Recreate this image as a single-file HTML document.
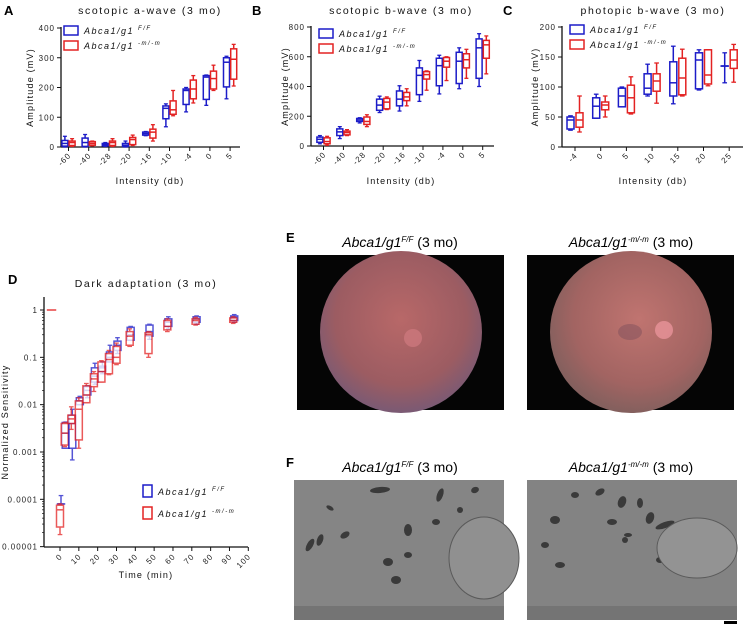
<!DOCTYPE html>
<html><head><meta charset="utf-8"><style>
html,body{margin:0;padding:0;background:#fff;}
svg{display:block;font-family:"Liberation Sans",sans-serif;}
.tk{font-size:8px;letter-spacing:1px;fill:#222;}
.ttl{font-size:10.5px;letter-spacing:1.6px;fill:#111;}
.ax{font-size:9px;letter-spacing:1.2px;fill:#111;}
.lg{font-size:9px;letter-spacing:1.5px;font-style:italic;fill:#111;}
.pl{font-size:13px;font-weight:bold;fill:#000;}
.it{font-size:14px;fill:#000;}
</style></head><body>
<svg id="chart" width="743" height="626" viewBox="0 0 743 626" xmlns="http://www.w3.org/2000/svg">
<defs>
<radialGradient id="fundL" cx="50%" cy="42%" r="58%">
<stop offset="0" stop-color="#b86868"/><stop offset="0.7" stop-color="#9c5c62"/><stop offset="1" stop-color="#7a5a74"/>
</radialGradient>
<radialGradient id="fundR" cx="55%" cy="42%" r="58%">
<stop offset="0" stop-color="#c07470"/><stop offset="0.7" stop-color="#a26462"/><stop offset="1" stop-color="#84605e"/>
</radialGradient>
</defs>
<g id="layer-charts"></g>
<g>
<text class="pl" x="286" y="242">E</text>
<text class="it" x="400" y="247" text-anchor="middle"><tspan font-style="italic">Abca1/g1</tspan><tspan font-size="8" dy="-5" font-style="italic">F/F</tspan><tspan dy="5"> (3 mo)</tspan></text>
<text class="it" x="631" y="247" text-anchor="middle"><tspan font-style="italic">Abca1/g1</tspan><tspan font-size="8" dy="-5" font-style="italic">-m/-m</tspan><tspan dy="5"> (3 mo)</tspan></text>
<rect x="297" y="255" width="207" height="155" fill="#050505"/>
<circle cx="401" cy="332" r="81" fill="url(#fundL)"/>
<circle cx="413" cy="338" r="9" fill="#d07a80" opacity="0.7"/>
<rect x="527" y="255" width="207" height="155" fill="#050505"/>
<circle cx="631" cy="332" r="81" fill="url(#fundR)"/>
<circle cx="664" cy="330" r="9" fill="#e8949a" opacity="0.8"/>
<ellipse cx="630" cy="332" rx="12" ry="8" fill="#80505c" opacity="0.5"/>
</g>
<g>
<text class="pl" x="286" y="467">F</text>
<text class="it" x="400" y="472" text-anchor="middle"><tspan font-style="italic">Abca1/g1</tspan><tspan font-size="8" dy="-5" font-style="italic">F/F</tspan><tspan dy="5"> (3 mo)</tspan></text>
<text class="it" x="631" y="472" text-anchor="middle"><tspan font-style="italic">Abca1/g1</tspan><tspan font-size="8" dy="-5" font-style="italic">-m/-m</tspan><tspan dy="5"> (3 mo)</tspan></text>
<rect x="294" y="480" width="210" height="140" fill="#858585"/>
<rect x="527" y="480" width="210" height="140" fill="#838383"/>
<g id="tem-shapes"></g>
<ellipse cx="484" cy="558" rx="35" ry="41" fill="#909090" stroke="#5a5a5a" stroke-width="1"/>
<ellipse cx="697" cy="548" rx="40" ry="30" fill="#939393" stroke="#5a5a5a" stroke-width="1"/>
<rect x="294" y="606" width="210" height="14" fill="#747474"/>
<rect x="527" y="606" width="210" height="14" fill="#747474"/>
<rect x="724" y="621" width="13" height="3" fill="#000"/>
</g>
</svg>
<script>
// Panel A: scotopic a-wave
const catsA = ["-60","-40","-28","-20","-16","-10","-4","0","5"];
const blueA = [[0,3,12,22,36],[0,2,15,30,42],[2,4,8,12,15],[0,2,6,12,20],[38,40,45,50,52],[68,95,130,138,145],[118,143,190,195,200],[140,160,235,240,242],[162,202,285,300,305]];
const redA = [[2,5,15,20,28],[4,6,12,18,20],[2,5,15,20,28],[5,8,25,32,40],[20,30,50,60,75],[105,110,125,155,190],[148,162,195,225,240],[190,195,230,255,275],[205,228,295,330,345]];
const ticksA = [0,100,200,300,400];
// Panel B: scotopic b-wave
const catsB = ["-60","-40","-28","-20","-16","-10","-4","0","5"];
const blueB = [[15,25,45,60,70],[50,70,95,115,130],[155,165,175,185,190],[225,240,275,315,335],[235,270,315,370,405],[300,345,475,525,575],[350,405,540,590,610],[385,420,570,630,660],[400,455,660,720,755]];
const redB = [[5,15,30,55,65],[70,75,90,100,110],[130,145,165,195,210],[245,250,295,320,330],[270,305,330,360,385],[375,450,480,500,505],[440,530,570,595,600],[455,525,580,620,650],[485,590,680,710,740]];
const ticksB = [0,200,400,600,800];
// Panel C: photopic b-wave
const catsC = ["-4","0","5","10","15","20","25"];
const blueC = [[28,30,45,50,52],[48,48,68,82,88],[67,67,85,98,100],[85,88,98,122,138],[72,85,107,142,168],[95,97,145,157,162],[107,135,135,135,157]];
const redC = [[25,33,45,57,85],[50,62,70,75,85],[55,57,82,103,117],[73,93,110,122,140],[85,87,115,148,163],[102,105,120,162,162],[108,131,145,162,171]];
const ticksC = [0,50,100,150,200];
// Panel D: dark adaptation
const timesD = [0,2.5,6,10,14,18,22,26,30,37,47,57,72,92];
const blueD = [[0.00008,0.00008,0.00008,0.00008,0.00012],[0.0012,0.0012,0.0025,0.0042,0.0043],[0.00068,0.0012,0.004,0.006,0.008],[0.01,0.01,0.012,0.014,0.015],[0.014,0.016,0.02,0.024,0.025],[0.027,0.03,0.04,0.06,0.075],[0.045,0.05,0.06,0.065,0.08],[0.08,0.08,0.1,0.13,0.18],[0.12,0.14,0.18,0.22,0.26],[0.23,0.23,0.3,0.43,0.45],[0.24,0.28,0.35,0.48,0.5],[0.4,0.45,0.55,0.65,0.72],[0.5,0.55,0.65,0.72,0.75],[0.55,0.6,0.7,0.75,0.8]];
const redD = [[0.000018,0.000026,0.00006,0.000075,0.00008],[0.0013,0.0014,0.0025,0.004,0.0042],[0.003,0.004,0.005,0.006,0.009],[0.0012,0.0018,0.008,0.012,0.014],[0.011,0.011,0.016,0.025,0.028],[0.019,0.024,0.035,0.045,0.05],[0.03,0.03,0.05,0.08,0.085],[0.043,0.045,0.09,0.12,0.14],[0.07,0.075,0.1,0.17,0.2],[0.17,0.18,0.28,0.35,0.4],[0.1,0.12,0.3,0.33,0.35],[0.35,0.38,0.45,0.6,0.65],[0.48,0.5,0.6,0.65,0.7],[0.52,0.55,0.6,0.68,0.72]];
const baselineD = 1;
const ticksD = [1,0.1,0.01,0.001,0.0001,0.00001];
const ticksDLabels = ["1","0.1","0.01","0.001","0.0001","0.00001"];
const xTicksD = [0,10,20,30,40,50,60,70,80,90,100];

const NS = "http://www.w3.org/2000/svg";
const root = document.getElementById('layer-charts');
const BLUE = "#1c1cc8", RED = "#e32222";
function mk(tag, attrs, parent) {
  const e = document.createElementNS(NS, tag);
  for (const k in attrs) e.setAttribute(k, attrs[k]);
  (parent || root).appendChild(e);
  return e;
}
function drawBox(g, cx, w, v, sy, color, op) {
  const grp = mk('g', {opacity: op}, g);
  
  
  const wh = mk('line', {x1: cx, x2: cx, y1: sy(v[0]), y2: sy(v[4]), stroke: color, 'stroke-width': 1.5}, grp);
  
  
  const cap1 = mk('line', {x1: cx - w/3, x2: cx + w/3, y1: sy(v[0]), y2: sy(v[0]), stroke: color, 'stroke-width': 1.3}, grp);
  
  
  const cap2 = mk('line', {x1: cx - w/3, x2: cx + w/3, y1: sy(v[4]), y2: sy(v[4]), stroke: color, 'stroke-width': 1.3}, grp);
  
  
  const y3 = sy(v[3]), y1 = sy(v[1]);
  const r = mk('rect', {x: cx - w/2, y: y3, width: w, height: Math.max(y1 - y3, 0.1), fill: '#fff', stroke: color, 'stroke-width': 1.5}, grp);
  
  
  const md = mk('line', {x1: cx - w/2, x2: cx + w/2, y1: sy(v[2]), y2: sy(v[2]), stroke: color, 'stroke-width': 1.5}, grp);
  
  
}
function txt(g, x, y, s, cls, extra) {
  const t = mk('text', Object.assign({x: x, y: y, class: cls}, extra || {}), g);
  t.textContent = s;
  return t;
}
function legendItem(g, x, y, color, sup, big) {
  const r = mk('rect', {x: x, y: y, width: big ? 14 : 9, height: big ? 9 : 12, fill: 'none', stroke: color, 'stroke-width': 1.5}, g);
  
  
  const t = mk('text', {x: x + (big ? 20 : 15), y: y + (big ? 8 : 10), class: 'lg'}, g);
  
  
  const a = document.createElementNS(NS, 'tspan'); a.textContent = 'Abca1/g1 '; t.appendChild(a);
  const b = document.createElementNS(NS, 'tspan'); b.setAttribute('font-size', '6'); b.setAttribute('dy', '-4'); b.textContent = sup; t.appendChild(b);
}
function panel(o) {
  const g = mk('g', {});
  
  
  const sy = v => o.y0 - (v / o.ymax) * (o.y0 - o.ytop);
  const cx = i => o.c0 + o.dc * i;
  txt(g, o.letterX, 15, o.letter, 'pl');
  txt(g, o.titleX, 14, o.title, 'ttl', {'text-anchor': 'middle'});
  mk('line', {x1: o.xa, x2: o.xa, y1: o.ytop - 1, y2: o.y0, stroke: '#111', 'stroke-width': 1.3}, g);
  mk('line', {x1: o.xa, x2: o.xend, y1: o.y0, y2: o.y0, stroke: '#111', 'stroke-width': 1.3}, g);
  o.ticks.forEach(t => {
    mk('line', {x1: o.xa - 4, x2: o.xa, y1: sy(t), y2: sy(t), stroke: '#111', 'stroke-width': 1}, g);
    txt(g, o.xa - 6, sy(t) + 3, String(t), 'tk', {'text-anchor': 'end'});
  });
  o.cats.forEach((c, i) => {
    mk('line', {x1: cx(i), x2: cx(i), y1: o.y0, y2: o.y0 + 4, stroke: '#111', 'stroke-width': 1}, g);
    txt(g, cx(i) + 3, o.y0 + 9, c, 'tk', {'text-anchor': 'end', transform: 'rotate(-45 ' + (cx(i) + 3) + ' ' + (o.y0 + 9) + ')'});
    drawBox(g, cx(i) - o.off, o.bw, o.blue[i], sy, BLUE, 1);
    drawBox(g, cx(i) + o.off, o.bw, o.red[i], sy, RED, 1);
  });
  txt(g, o.titleX, 184, 'Intensity (db)', 'ax', {'text-anchor': 'middle'});
  txt(g, 0, 0, 'Amplitude (mV)', 'ax', {'text-anchor': 'middle', transform: 'translate(' + o.ylabX + ' ' + ((o.y0 + o.ytop) / 2) + ') rotate(-90)'});
  legendItem(g, o.legX, o.legY, BLUE, 'F/F', true);
  legendItem(g, o.legX, o.legY + 15, RED, '-m/-m', true);
}
panel({name: 'panel-a-scotopic-a-wave', letter: 'A', letterX: 4, title: 'scotopic a-wave (3 mo)', titleX: 150, xa: 61, xend: 240, y0: 147, ytop: 28, ymax: 400, c0: 68.5, dc: 20.2, off: 3.6, bw: 6, cats: catsA, blue: blueA, red: redA, ticks: ticksA, ylabX: 33, legX: 64, legY: 26});
panel({name: 'panel-b-scotopic-b-wave', letter: 'B', letterX: 252, title: 'scotopic b-wave (3 mo)', titleX: 401, xa: 311, xend: 494, y0: 146, ytop: 27, ymax: 800, c0: 323.5, dc: 19.9, off: 3.6, bw: 6, cats: catsB, blue: blueB, red: redB, ticks: ticksB, ylabX: 288, legX: 319, legY: 29});
panel({name: 'panel-c-photopic-b-wave', letter: 'C', letterX: 503, title: 'photopic b-wave (3 mo)', titleX: 653, xa: 562, xend: 743, y0: 147, ytop: 27, ymax: 200, c0: 575, dc: 25.7, off: 4.5, bw: 7, cats: catsC, blue: blueC, red: redC, ticks: ticksC, ylabX: 538, legX: 570, legY: 25});

// Panel D
(function () {
  const g = mk('g', {});
  
  
  const sy = v => 310 - 47.33 * Math.log10(v);
  const sx = t => 60 + 1.883 * t;
  txt(g, 8, 284, 'D', 'pl');
  txt(g, 146, 287, 'Dark adaptation (3 mo)', 'ttl', {'text-anchor': 'middle'});
  mk('line', {x1: 44, x2: 44, y1: 297, y2: 547, stroke: '#111', 'stroke-width': 1.3}, g);
  mk('line', {x1: 44, x2: 248, y1: 547, y2: 547, stroke: '#111', 'stroke-width': 1.3}, g);
  ticksD.forEach((t, i) => {
    mk('line', {x1: 40, x2: 44, y1: sy(t), y2: sy(t), stroke: '#111', 'stroke-width': 1}, g);
    txt(g, 38, sy(t) + 3, ticksDLabels[i], 'tk', {'text-anchor': 'end'});
    if (i < ticksD.length - 1) {
      for (let m = 2; m <= 9; m++) {
        const v = t / 10 * m;
        mk('line', {x1: 42, x2: 44, y1: sy(v), y2: sy(v), stroke: '#111', 'stroke-width': 0.7}, g);
      }
    }
  });
  xTicksD.forEach(t => {
    mk('line', {x1: sx(t), x2: sx(t), y1: 547, y2: 551, stroke: '#111', 'stroke-width': 1}, g);
    txt(g, sx(t) + 3, 557, String(t), 'tk', {'text-anchor': 'end', transform: 'rotate(-45 ' + (sx(t) + 3) + ' ' + 557 + ')'});
  });
  const base = mk('line', {x1: sx(-7), x2: sx(-2), y1: sy(baselineD), y2: sy(baselineD), stroke: RED, 'stroke-width': 1.3}, g);
  
  
  timesD.forEach((t, i) => {
    drawBox(g, sx(t) + 1, 7, blueD[i], sy, BLUE, 0.75);
    drawBox(g, sx(t), 7, redD[i], sy, RED, 0.75);
  });
  txt(g, 146, 578, 'Time (min)', 'ax', {'text-anchor': 'middle'});
  txt(g, 0, 0, 'Normalized Sensitivity', 'ax', {'text-anchor': 'middle', transform: 'translate(8 422) rotate(-90)'});
  legendItem(g, 143, 485, BLUE, 'F/F', false);
  legendItem(g, 143, 507, RED, '-m/-m', false);
})();

// TEM texture (decorative organelles)
const temG = document.getElementById('tem-shapes');
const orgL = [[380,490,10,3,-5],[330,508,4,2,30],[320,540,3,6,20],[408,530,4,6,0],[388,562,5,4,0],[408,555,4,3,0],[345,535,5,3,-30],[310,545,3,7,30],[440,495,3,7,20],[475,490,4,3,-20],[460,510,3,3,0],[436,522,4,3,0],[396,580,5,4,0]];
const orgR = [[575,495,4,3,0],[600,492,5,3,-30],[622,502,4,6,20],[640,503,3,5,0],[555,520,5,4,0],[545,545,4,3,0],[612,522,5,3,0],[650,518,4,6,20],[665,525,10,3,-20],[560,565,5,3,0],[625,540,3,3,0],[660,560,4,3,0],[628,535,4,2,0]];
orgL.concat(orgR).forEach(o => {
  const e = mk('ellipse', {cx: o[0], cy: o[1], rx: o[2], ry: o[3], fill: '#3a3a3a', transform: 'rotate(' + o[4] + ' ' + o[0] + ' ' + o[1] + ')'}, temG);
  
  
});
</script>
</body></html>
